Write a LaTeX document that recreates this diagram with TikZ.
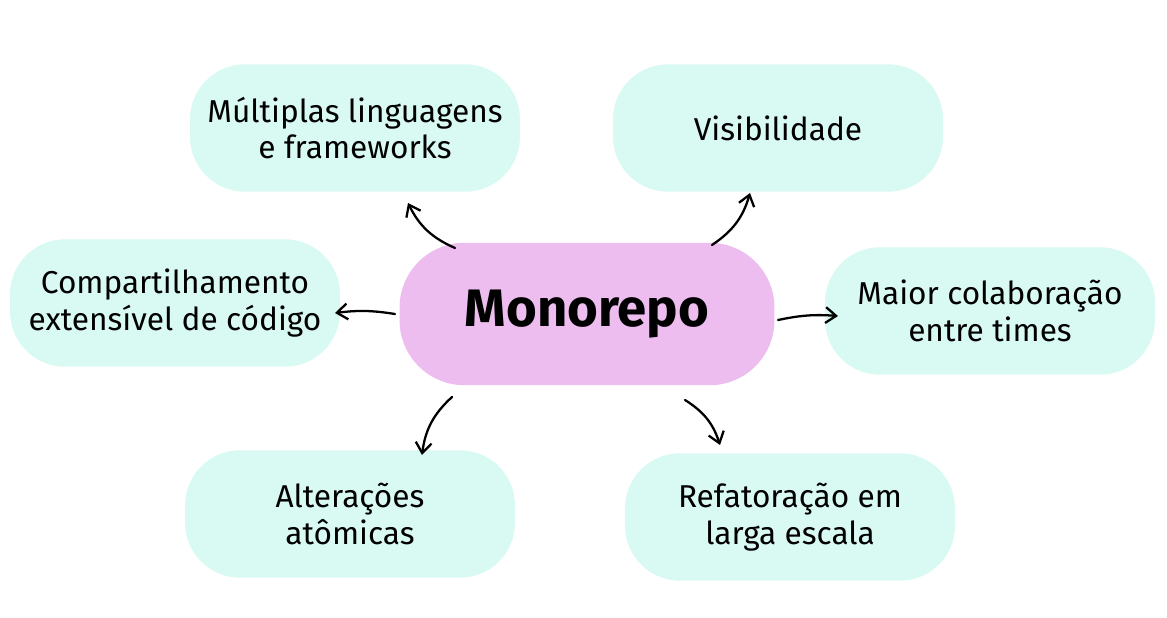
\documentclass[tikz,border=0pt]{standalone}
\usepackage{fontspec}
\setmainfont{Fira Sans}
\usetikzlibrary{arrows.meta, positioning}
\definecolor{colour_leaf}{HTML}{D9F9F3}
\definecolor{colour_root}{HTML}{ECBDEE}

\begin{document}
\begin{tikzpicture}
   [
      x=0.02cm, y=-0.02cm,
      blob/.style={fill=colour_leaf, rounded corners=1.1cm, minimum width=6.6cm, minimum height=2.55cm, align=center, font=\fontsize{18}{21}\selectfont},
      root/.style={fill=colour_root, rounded corners=1.3cm, minimum width=7.5cm, minimum height=2.85cm, font=\fontsize{30}{34}\selectfont\bfseries},
      link/.style={-{Straight Barb[length=6pt, width=9pt]}, line width=1.3pt, line cap=round, black}
   ]
   \useasboundingbox (0,0) rectangle (1167,618);

   % centre
   \node[root] (mono) at (587,314) {Monorepo};

   % leaves
   \node[blob] (lang) at (355,128) {Múltiplas linguagens\\e frameworks};
   \node[blob] (vis) at (778,128) {Visibilidade};
   \node[blob] (share) at (175,303) {Compartilhamento\\extensível de código};
   \node[blob] (collab) at (990,311) {Maior colaboração\\entre times};
   \node[blob] (atomic) at (350,514) {Alterações\\atômicas};
   \node[blob] (refac) at (790,517) {Refatoração em\\larga escala};

   % arrow ends
   \coordinate (a1) at (455,248); \coordinate (b1) at (408,203);
   \coordinate (a2) at (712,245); \coordinate (b2) at (750,193);
   \coordinate (a3) at (395,314); \coordinate (b3) at (335,313);
   \coordinate (a4) at (778,320); \coordinate (b4) at (838,316);
   \coordinate (a5) at (452,397); \coordinate (b5) at (422,455);
   \coordinate (a6) at (685,400); \coordinate (b6) at (720,445);

   \draw[link] (a1) to[bend left=20] (b1);
   \draw[link] (a2) to[bend right=20] (b2);
   \draw[link] (a3) to[bend right=8] (b3);
   \draw[link] (a4) to[bend left=8] (b4);
   \draw[link] (a5) to[bend right=20] (b5);
   \draw[link] (a6) to[bend left=20] (b6);
\end{tikzpicture}
\end{document}
